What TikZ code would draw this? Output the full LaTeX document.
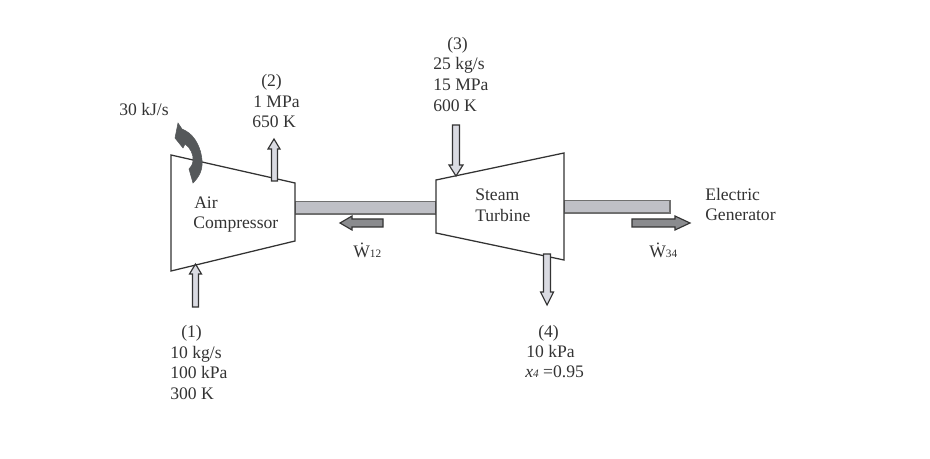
\documentclass[tikz,border=0pt]{standalone}
\usepackage{fontspec}
\setmainfont{Liberation Serif}
\definecolor{ink}{HTML}{333333}
\definecolor{shaftfill}{HTML}{BFC0C6}
\definecolor{flowfill}{HTML}{DADBE2}
\definecolor{workfill}{HTML}{8A8B8E}
\definecolor{heatfill}{HTML}{55585A}
\tikzset{
  machine/.style={draw=ink,line width=0.95pt,fill=white},
  shaft/.style={draw=ink!70,line width=0.9pt,fill=shaftfill},
  flow/.style={draw=ink,line width=0.85pt,fill=flowfill,line join=miter},
  work/.style={draw=ink,line width=0.85pt,fill=workfill,line join=miter},
  heat/.style={draw=heatfill,line width=0.4pt,fill=heatfill},
  labl/.style={text=ink,font=\fontsize{13.2}{15}\selectfont,inner sep=0pt,align=left,yshift=-1.1pt}
}
\newcommand{\subs}[1]{{\fontsize{8.5}{10}\selectfont #1}}
\begin{document}
\begin{tikzpicture}[x=0.75pt,y=-0.75pt]
\useasboundingbox (0,0) rectangle (930,459);
\fill[white] (0,0) rectangle (930,459);
% shafts
\draw[shaft] (295,201.5) rectangle (436,214);
\draw[shaft] (564,200.5) rectangle (670,213);
% machines
\draw[machine] (171,155) -- (295,183) -- (295,241) -- (171,271) -- cycle;
\draw[machine] (436,180) -- (564,153) -- (564,260) -- (436,233) -- cycle;
% heat arrow
\draw[heat] (193,183) .. controls (199,177) and (203,170) .. (202,160)
  .. controls (201,148) and (195,136) .. (186,131) -- (182,129) -- (178,123) -- (175,138) -- (183,148) -- (185,144)
  .. controls (190,147) and (194,155) .. (193,161) .. controls (192.5,165) and (191,167) .. (189,169) -- cycle;
% flow arrows
\draw[flow] (192.5,307) -- (192.5,274) -- (189.5,274) -- (195.5,264) -- (201.5,274) -- (198.5,274) -- (198.5,307) -- cycle;
\draw[flow] (271.5,181) -- (271.5,149) -- (268,149) -- (274,139) -- (280,149) -- (277.5,149) -- (277.5,181) -- cycle;
\draw[flow] (452.5,125) -- (452.5,165) -- (449,165) -- (456,176) -- (463,165) -- (459.5,165) -- (459.5,125) -- cycle;
\draw[flow] (543.5,254) -- (543.5,292) -- (540.5,292) -- (547,305) -- (553.5,292) -- (550.5,292) -- (550.5,254) -- cycle;
% work arrows
\draw[work] (383,219) -- (352,219) -- (352,216) -- (340,223) -- (352,230) -- (352,227) -- (383,227) -- cycle;
\draw[work] (632,219) -- (675,219) -- (675,216) -- (690,223) -- (675,230) -- (675,227) -- (632,227) -- cycle;
% labels
\node[labl,anchor=base west] (heatlab) at (119,114) {30 kJ/s};
\node[labl,anchor=base west] (s2a) at (261,85) {(2)};
\node[labl,anchor=base west] (s2b) at (253,106) {1 MPa};
\node[labl,anchor=base west] (s2c) at (252,126) {650 K};
\node[labl,anchor=base west] (s3a) at (447,48) {(3)};
\node[labl,anchor=base west] (s3b) at (433,68) {25 kg/s};
\node[labl,anchor=base west] (s3c) at (433,89) {15 MPa};
\node[labl,anchor=base west] (s3d) at (433,110) {600 K};
\node[labl,anchor=base west] (s1a) at (181,336) {(1)};
\node[labl,anchor=base west] (s1b) at (170,357) {10 kg/s};
\node[labl,anchor=base west] (s1c) at (170,377) {100 kPa};
\node[labl,anchor=base west] (s1d) at (170,398) {300 K};
\node[labl,anchor=base west] (s4a) at (538,336) {(4)};
\node[labl,anchor=base west] (s4b) at (526,356) {10 kPa};
\node[labl,anchor=base west] (s4c) at (525,376) {\textit{x}\subs{\textit{4}} =0.95};
\node[labl,anchor=base west] (aira) at (194,207) {Air};
\node[labl,anchor=base west] (airb) at (193,227) {Compressor};
\node[labl,anchor=base west] (stma) at (475,199) {Steam};
\node[labl,anchor=base west] (stmb) at (475,220) {Turbine};
\node[labl,anchor=base west] (gena) at (705,199) {Electric};
\node[labl,anchor=base west] (genb) at (705,219) {Generator};
\node[labl,anchor=base west] (w12) at (353,256) {\.W\subs{12}};
\node[labl,anchor=base west] (w34) at (649,256) {\.W\subs{34}};
\end{tikzpicture}
\end{document}
